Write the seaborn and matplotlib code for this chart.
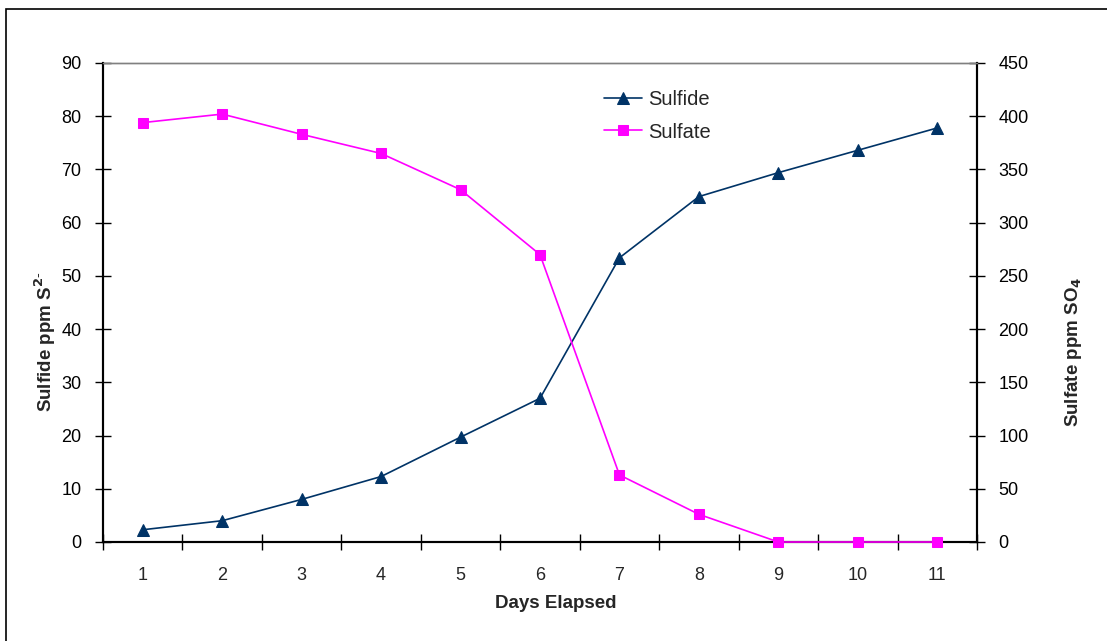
import matplotlib
matplotlib.use("Agg")
import matplotlib.pyplot as plt
import matplotlib.patches as mpatches
import seaborn as sns
from matplotlib.ticker import MultipleLocator, FixedLocator


days = [1, 2, 3, 4, 5, 6, 7, 8, 9, 10, 11]
sulfide = [2.3, 4.0, 8.0, 12.3, 19.7, 27.0, 53.4, 64.9, 69.4, 73.6, 77.8]
sulfate = [394, 402, 383, 365, 331, 270, 63, 26, 0, 0, 0]

SULFIDE_COLOR = "#003366"
SULFATE_COLOR = "#FF00FF"

W, H = 1107, 641


def main():
    sns.set_theme(style="white")
    plt.rcParams["font.family"] = ["Liberation Sans", "DejaVu Sans"]

    fig = plt.figure(figsize=(W / 100, H / 100), dpi=100)
    ax = fig.add_axes([103 / W, 1 - 542 / H, 874 / W, 479 / H])
    ax2 = ax.twinx()

    sns.lineplot(x=days, y=sulfide, ax=ax, color=SULFIDE_COLOR, marker="^",
                 markersize=9, markeredgecolor=SULFIDE_COLOR, linewidth=1.2,
                 label="Sulfide", legend=False)
    sns.lineplot(x=days, y=sulfate, ax=ax2, color=SULFATE_COLOR, marker="s",
                 markersize=7.3, markeredgecolor=SULFATE_COLOR, linewidth=1.2,
                 label="Sulfate", legend=False)

    # markers sitting on the zero line should not be cut by the axes edge
    for line in ax.get_lines() + ax2.get_lines():
        line.set_clip_on(False)
        line.set_zorder(5)

    ax.set_xlim(0.5, 11.5)
    ax.set_ylim(0, 90)
    ax2.set_ylim(0, 450)
    ax.yaxis.set_major_locator(MultipleLocator(10))
    ax2.yaxis.set_major_locator(MultipleLocator(50))
    ax.set_xticks(days)
    ax.set_xticklabels([str(d) for d in days])
    ax.xaxis.set_minor_locator(FixedLocator([d + 0.5 for d in range(0, 12)]))

    for a in (ax, ax2):
        for side in ("left", "right", "bottom"):
            a.spines[side].set_color("black")
            a.spines[side].set_linewidth(1.5)
        a.spines["top"].set_color("#808080")
        a.spines["top"].set_linewidth(1.0)
        a.grid(False)
        a.set_facecolor("none")

    ax.tick_params(axis="y", which="major", direction="inout", length=11,
                   width=1, labelsize=13, colors="black", left=True, pad=10)
    ax2.tick_params(axis="y", which="major", direction="inout", length=11,
                    width=1, labelsize=13, colors="black", right=True, pad=10)
    ax.tick_params(axis="x", which="major", length=0, labelsize=13, pad=18)
    ax.tick_params(axis="x", which="minor", direction="inout", length=11,
                   width=1, bottom=True, colors="black")
    ax.set_xlabel("")
    ax.set_ylabel("")
    ax2.set_ylabel("")

    fig.text(556 / W, 1 - 603 / H, "Days Elapsed", fontsize=13.5,
             fontweight="bold", ha="center", va="center")
    fig.text(45 / W, 1 - 342 / H, "Sulfide ppm S$^{\\mathbf{2\\text{-}}}$",
             fontsize=13.5, fontweight="bold", rotation=90,
             ha="center", va="center")
    fig.text(1073 / W, 1 - 352 / H, "Sulfate ppm SO$_{\\mathbf{4}}$",
             fontsize=13.5, fontweight="bold", rotation=90,
             ha="center", va="center")

    handles = ax.get_lines()[:1] + ax2.get_lines()[:1]
    fig.legend(handles, ["Sulfide", "Sulfate"], loc="center left",
               bbox_to_anchor=(594 / W, 1 - 116 / H), frameon=False,
               fontsize=14.5, handlelength=1.9, labelspacing=0.65,
               handletextpad=0.3, borderpad=0)

    border = mpatches.Rectangle((6 / W, -0.05), 1.0, 1.05 - 9 / H,
                                transform=fig.transFigure, fill=False,
                                edgecolor="black", linewidth=1.2,
                                clip_on=False)
    fig.patches.append(border)

    fig.savefig("out.png", dpi=100)
    plt.close(fig)


if __name__ == "__main__":
    main()
